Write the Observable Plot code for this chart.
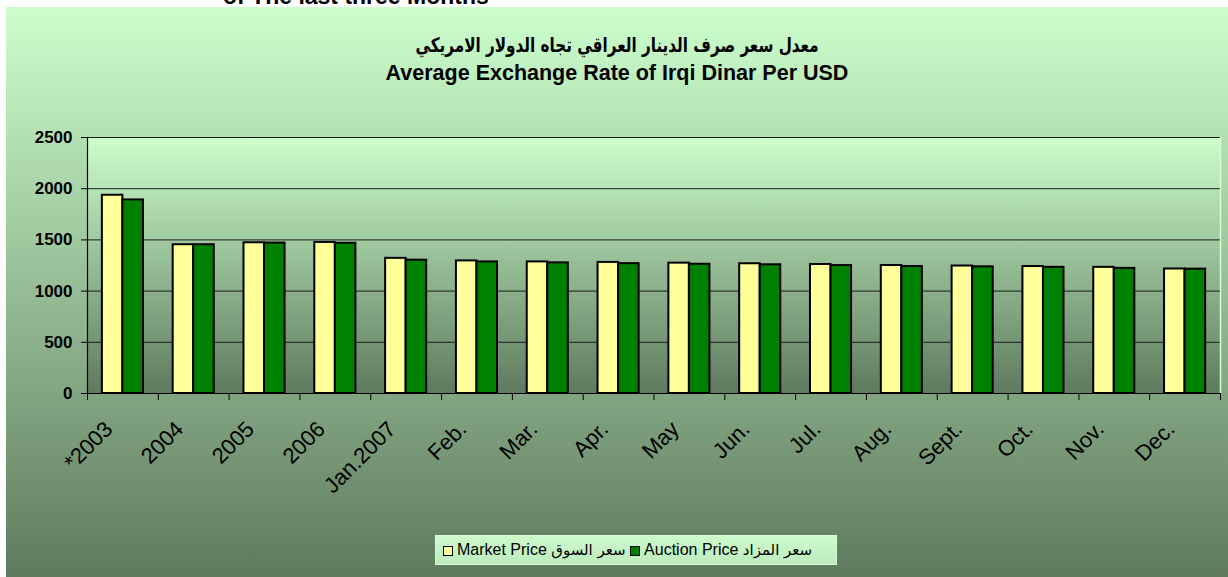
<!DOCTYPE html>
<html>
<head>
<meta charset="utf-8">
<script src="https://cdn.jsdelivr.net/npm/d3@7"></script>
<script src="https://cdn.jsdelivr.net/npm/@observablehq/plot@0.6"></script>
<style>
  body { margin: 0; background: #fff; }
  #wrap { position: relative; width: 1228px; height: 577px; overflow: hidden; background: #fff;
          font-family: "Liberation Sans", Arial, "DejaVu Sans", sans-serif; color: #000; }
  #panel { position: absolute; left: 6px; top: 7px; width: 1222px; height: 570px;
           background: linear-gradient(#CCFFCC, #5F7A5F); }
  #plotbg { position: absolute; left: 87px; top: 137px; width: 1133px; height: 256px;
            background: linear-gradient(#CCFFCC, #5F7A5F); }
  #toptext { position: absolute; left: 223px; top: -15px; font-weight: bold; font-size: 23px;
             line-height: 22px; white-space: nowrap; }
  #t1 { position: absolute; left: 6px; width: 1222px; top: 32px; text-align: center;
        font-weight: bold; font-size: 20px; line-height: 26px; direction: rtl;
        transform: scaleX(0.76); font-family: "DejaVu Sans", sans-serif; }
  #t2 { position: absolute; left: 6px; width: 1222px; top: 61px; text-align: center;
        font-weight: bold; font-size: 21.5px; line-height: 24px; }
  #chart { position: absolute; left: 0; top: 0; }
  #legend { position: absolute; left: 435px; top: 535px;
            background: linear-gradient(#CCFACC, #BDEBBD); border: 1px solid #D6FFD6;
            font-size: 16px; line-height: 28px; white-space: nowrap; padding-left: 7px;
            box-sizing: border-box; width: 402px; height: 30px; }
  .sw { display: inline-block; width: 8px; height: 8px; border: 1.5px solid #000; vertical-align: -1px; margin-right: 4px; }
  .ar { font-family: "DejaVu Sans", sans-serif; font-size: 15px; }
</style>
</head>
<body>
<div id="wrap">
  <div id="toptext">of The last three Months</div>
  <div id="panel"></div>
  <div id="plotbg"></div>
  <div id="t1">معدل سعر صرف الدينار العراقي تجاه الدولار الامريكي</div>
  <div id="t2">Average Exchange Rate of Irqi Dinar Per USD</div>
  <div id="chart"></div>
  <div id="legend"><span class="sw" style="background:#FFFF99"></span>Market Price <span class="ar">سعر السوق</span> <span class="sw" style="background:#008000"></span>Auction Price <span class="ar">سعر المزاد</span></div>
</div>
<script>
const categories = ["*2003", "2004", "2005", "2006", "Jan.2007", "Feb.", "Mar.", "Apr.", "May", "Jun.", "Jul.", "Aug.", "Sept.", "Oct.", "Nov.", "Dec."];
const marketPrice = [1936, 1453, 1472, 1475, 1320, 1295, 1285, 1280, 1273, 1267, 1260, 1250, 1245, 1240, 1232, 1216];
const auctionPrice = [1890, 1453, 1469, 1467, 1302, 1285, 1276, 1268, 1262, 1257, 1250, 1240, 1237, 1232, 1222, 1214];
const yTicks = [0, 500, 1000, 1500, 2000, 2500];

const rows = categories.map((c, i) => ({i, c, market: marketPrice[i], auction: auctionPrice[i]}));
const n = categories.length;
const boundaries = d3.range(n + 1);

const chart = Plot.plot({
  width: 1228,
  height: 577,
  marginLeft: 87,
  marginRight: 8,
  marginTop: 137,
  marginBottom: 184,
  style: {background: "transparent", overflow: "visible", fontFamily: "'Liberation Sans', Arial, sans-serif"},
  x: {domain: [0, n], axis: null},
  y: {domain: [0, 2500], axis: null},
  marks: [
    Plot.ruleY(yTicks, {stroke: "#1a1a1a", strokeWidth: 1}),
    Plot.ruleX([n], {stroke: "#D6FFD6", strokeWidth: 1.5}),
    Plot.rectY(rows, {x1: d => d.i + 0.21, x2: d => d.i + 0.5, y1: () => 0, y2: "market",
      fill: "#FFFF99", stroke: "#000", strokeWidth: 2}),
    Plot.rectY(rows, {x1: d => d.i + 0.5, x2: d => d.i + 0.79, y1: () => 0, y2: "auction",
      fill: "#008000", stroke: "#000", strokeWidth: 2}),
    Plot.ruleY([0], {stroke: "#000", strokeWidth: 1.2}),
    Plot.ruleX([0], {stroke: "#000", strokeWidth: 1.2}),
    Plot.axisX({ticks: boundaries, tickSize: 7, tickFormat: () => "", stroke: "#000"}),
    Plot.axisY({ticks: yTicks, tickSize: 6, tickPadding: 9, tickFormat: d => String(d),
      fontSize: 17, fontWeight: "bold", fill: "#000", stroke: "#000", label: null}),
    Plot.text(rows, {x: d => d.i + 0.5, y: () => 0, text: "c", rotate: -45, textAnchor: "end",
      dx: -14, dy: 32, fontSize: 22, fill: "#000"})
  ]
});
document.getElementById("chart").appendChild(chart);
</script>
</body>
</html>
